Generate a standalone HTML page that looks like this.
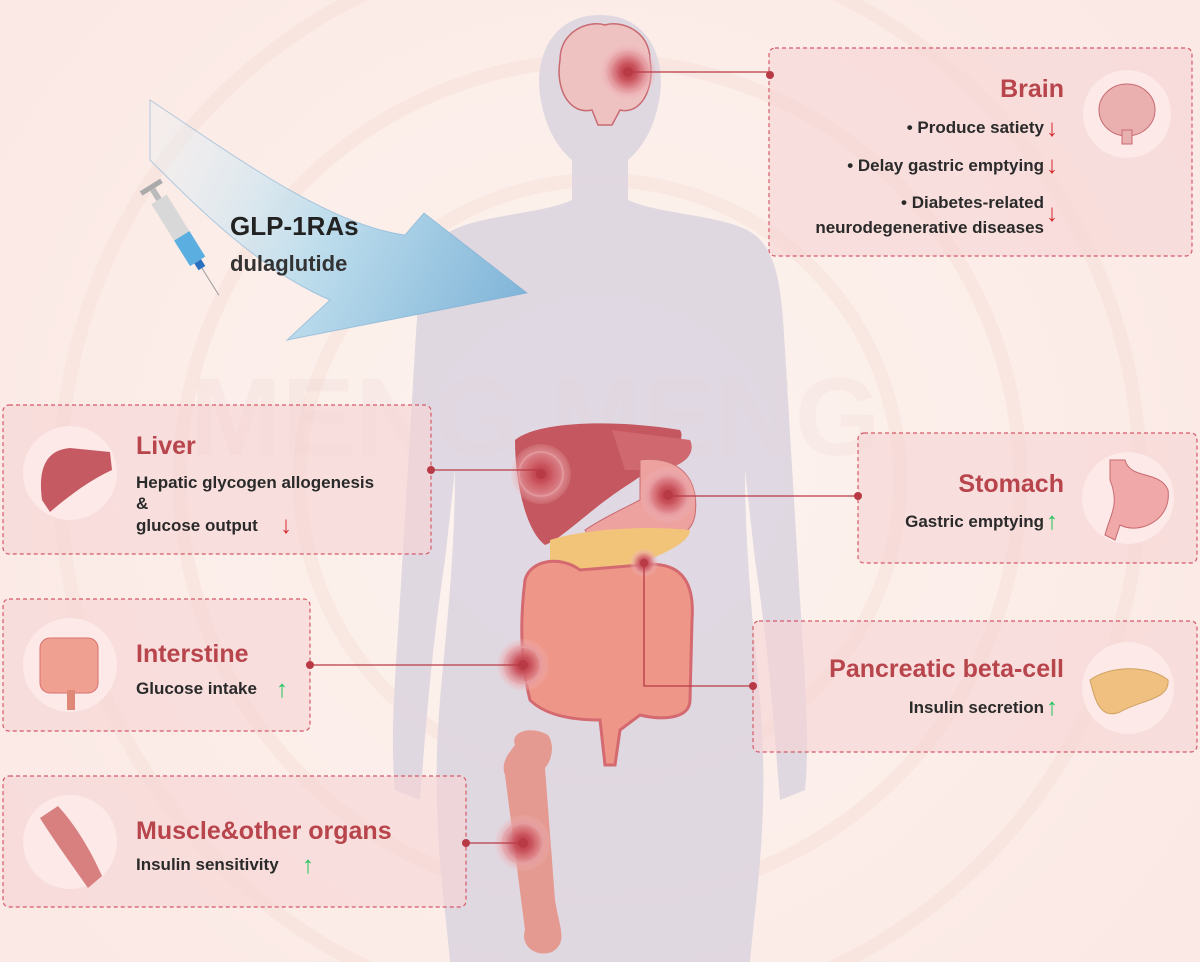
<!DOCTYPE html>
<html><head><meta charset="utf-8">
<style>
html,body{margin:0;padding:0;}
body{width:1200px;height:962px;overflow:hidden;background:#fbefea;font-family:"Liberation Sans",sans-serif;}
svg{display:block;}
svg text{font-family:"Liberation Sans",sans-serif;font-weight:bold;}
</style></head><body>
<svg width="1200" height="962" viewBox="0 0 1200 962" xmlns="http://www.w3.org/2000/svg">
<defs>
<radialGradient id="bg" cx="600" cy="480" r="700" gradientUnits="userSpaceOnUse">
<stop offset="0" stop-color="#fdf4ef"/><stop offset="1" stop-color="#fbe9e5"/></radialGradient>
<linearGradient id="arr" x1="150" y1="130" x2="527" y2="300" gradientUnits="userSpaceOnUse">
<stop offset="0" stop-color="#e8f2f6" stop-opacity="0.3"/><stop offset="0.5" stop-color="#bcdcec"/><stop offset="1" stop-color="#7fb4d8"/></linearGradient>
<radialGradient id="tg"><stop offset="0" stop-color="#b83a45"/><stop offset="0.3" stop-color="#c9525c"/><stop offset="0.55" stop-color="#d8757d" stop-opacity="0.8"/><stop offset="0.75" stop-color="#e8a0a5" stop-opacity="0.6"/><stop offset="1" stop-color="#f0b8bb" stop-opacity="0.15"/></radialGradient>
</defs>
<rect width="1200" height="962" fill="url(#bg)"/>
<g fill="none" stroke="#f5d8d0" stroke-width="14" opacity="0.3">
<circle cx="600" cy="480" r="300"/><circle cx="600" cy="480" r="420"/><circle cx="600" cy="480" r="540"/></g>
<text x="190" y="455" font-size="110" fill="#e8cccc" opacity="0.18">MENG MENG</text>
<!-- body silhouette -->
<path d="M600 15 C550 15 535 60 540 95 C545 130 560 150 572 160 L572 200 C540 215 470 215 445 235 C420 255 418 300 415 350 L400 600 C395 680 390 740 395 790 L420 800 C425 740 430 660 445 560 L455 470 C455 560 445 640 440 700 C430 820 445 900 450 962 L750 962 C755 900 770 820 760 700 C755 640 745 560 745 470 L755 560 C770 660 775 740 780 800 L805 790 C810 740 805 680 800 600 L785 350 C782 300 780 255 755 235 C730 215 660 215 628 200 L628 160 C640 150 655 130 660 95 C665 60 650 15 600 15Z" fill="#ddd5e0" opacity="0.9"/>
<!-- brain in head -->
<path d="M560 60 C560 30 590 20 605 25 C620 20 650 30 650 60 C655 90 640 115 620 110 L612 125 L598 125 L592 110 C570 115 555 90 560 60Z" fill="#efc2c2" stroke="#c86a70" stroke-width="1.5"/>
<!-- arrow -->
<path d="M150 100 C240 160 330 225 405 235 L424 213 L527 293 L287 340 L330 300 C260 270 200 210 150 160Z" fill="url(#arr)" stroke="#6ea6cf" stroke-width="1" stroke-opacity="0.5"/>
<!-- syringe -->
<g transform="translate(150,185) rotate(-32)">
<rect x="-12" y="0" width="24" height="5" fill="#aaa"/><rect x="-3" y="5" width="6" height="12" fill="#bbb"/>
<rect x="-9" y="17" width="18" height="60" fill="#d8d8d8"/><rect x="-9" y="60" width="18" height="30" fill="#5aaee0"/>
<rect x="-4" y="90" width="8" height="8" fill="#2a70c0"/><line x1="0" y1="98" x2="0" y2="130" stroke="#999" stroke-width="1"/>
</g>
<text x="230" y="235" font-size="26" fill="#222">GLP-1RAs</text>
<text x="230" y="271" font-size="22" fill="#333">dulaglutide</text>
<!-- boxes -->
<g fill="#f5d4d4" fill-opacity="0.6" stroke="#d45a68" stroke-width="1.2" stroke-dasharray="4,3">
<rect x="769" y="48" width="423" height="208" rx="6"/>
<rect x="3" y="405" width="428" height="149" rx="6"/>
<rect x="858" y="433" width="339" height="130" rx="6"/>
<rect x="3" y="599" width="307" height="132" rx="6"/>
<rect x="753" y="621" width="444" height="131" rx="6"/>
<rect x="3" y="776" width="463" height="131" rx="6"/>
</g>
<!-- icon circles -->
<g fill="#fce9e8">
<circle cx="1127" cy="114" r="44"/><circle cx="70" cy="473" r="47"/><circle cx="1128" cy="498" r="46"/>
<circle cx="70" cy="665" r="47"/><circle cx="1128" cy="688" r="46"/><circle cx="70" cy="842" r="47"/></g>
<!-- icon organs -->
<ellipse cx="1127" cy="110" rx="28" ry="26" fill="#eab0b0" stroke="#c86a70"/><rect x="1122" y="130" width="10" height="14" fill="#e8b0b0" stroke="#c86a70"/>
<path d="M42 500 C38 470 45 450 70 448 L110 452 L112 470 C90 480 70 495 50 512Z" fill="#c65a62"/>
<path d="M1110 460 L1125 460 C1130 480 1160 470 1168 490 C1172 520 1140 535 1120 525 L1115 540 L1105 535 C1110 515 1120 505 1110 480Z" fill="#f0a8a8" stroke="#c86a70"/>
<rect x="40" y="638" width="58" height="55" rx="10" fill="#f0a090" stroke="#d87070"/><rect x="67" y="690" width="8" height="20" fill="#e08878"/>
<path d="M1090 680 C1110 665 1150 665 1168 680 C1170 700 1140 700 1120 712 C1100 720 1095 700 1090 680Z" fill="#f0c080" stroke="#d0a060"/>
<path d="M40 818 L58 806 C80 830 95 860 102 876 L88 888 C70 862 55 842 40 818Z" fill="#d88080"/>
<!-- organs -->
<path d="M515 440 C540 420 620 420 680 430 C690 445 650 470 620 490 C590 510 560 540 545 545 C525 530 515 480 515 440Z" fill="#c4575f"/>
<path d="M612 430 L690 440 C695 450 690 465 660 470 L625 470Z" fill="#d06870"/>
<path d="M640 460 C680 455 700 480 695 515 C690 545 650 545 620 530 L595 545 L585 530 C600 520 620 510 640 500Z" fill="#eda2a0" stroke="#c86a70"/>
<path d="M550 540 C580 530 640 525 690 530 C690 545 650 560 620 570 C590 590 565 590 550 570Z" fill="#f2c47a"/>
<path d="M525 580 C530 560 560 555 580 570 L640 565 C680 560 695 580 692 620 L690 700 C690 720 660 720 640 715 L620 730 L615 765 L605 765 L600 720 C570 720 545 715 530 700 C520 660 520 620 525 580Z" fill="#ee9688" stroke="#d46a70" stroke-width="3"/>
<path d="M515 745 C510 732 530 725 548 735 C555 745 552 760 545 768 L555 900 C560 930 568 942 552 952 C535 958 520 945 525 930 L505 775 C500 762 510 752 515 745Z" fill="#e49a90"/>
<!-- targets -->
<g fill="url(#tg)">
<circle cx="628" cy="72" r="28"/><circle cx="541" cy="474" r="30"/><circle cx="668" cy="495" r="28"/>
<circle cx="644" cy="563" r="14"/><circle cx="523" cy="665" r="26"/><circle cx="523" cy="843" r="28"/></g>
<g fill="none" stroke="#e6a0a4" stroke-width="2" opacity="0.7">
<circle cx="628" cy="72" r="20"/><circle cx="541" cy="474" r="22"/><circle cx="668" cy="495" r="20"/><circle cx="523" cy="665" r="18"/><circle cx="523" cy="843" r="20"/></g>
<!-- connectors -->
<g stroke="#b83a45" stroke-width="1.3" fill="none">
<path d="M628 72 H770"/><path d="M431 470 H541"/><path d="M668 496 H858"/>
<path d="M644 563 V686 H753"/><path d="M310 665 H523"/><path d="M466 843 H523"/></g>
<g fill="#b83a45">
<circle cx="770" cy="75" r="4"/><circle cx="431" cy="470" r="4"/><circle cx="858" cy="496" r="4"/>
<circle cx="753" cy="686" r="4"/><circle cx="310" cy="665" r="4"/><circle cx="466" cy="843" r="4"/>
<circle cx="628" cy="72" r="5"/><circle cx="541" cy="474" r="5"/><circle cx="668" cy="495" r="5"/><circle cx="644" cy="563" r="4"/><circle cx="523" cy="665" r="5"/><circle cx="523" cy="843" r="5"/></g>
<!-- text -->
<g fill="#b8444c">
<text x="1064" y="97" font-size="25" text-anchor="end">Brain</text>
<text x="136" y="454" font-size="25">Liver</text>
<text x="1064" y="492" font-size="25" text-anchor="end">Stomach</text>
<text x="136" y="662" font-size="25">Interstine</text>
<text x="1064" y="677" font-size="25" text-anchor="end">Pancreatic beta-cell</text>
<text x="136" y="839" font-size="25">Muscle&amp;other organs</text></g>
<g fill="#2a2a2a" font-size="17">
<text x="1044" y="133" text-anchor="end">•  Produce satiety</text>
<text x="1044" y="171" text-anchor="end">•  Delay gastric emptying</text>
<text x="1044" y="208" text-anchor="end">•  Diabetes-related</text>
<text x="1044" y="233" text-anchor="end">neurodegenerative diseases</text>
<text x="136" y="488">Hepatic glycogen allogenesis</text>
<text x="136" y="509">&amp;</text>
<text x="136" y="531">glucose output</text>
<text x="1044" y="527" text-anchor="end">Gastric emptying</text>
<text x="136" y="694">Glucose intake</text>
<text x="1044" y="713" text-anchor="end">Insulin secretion</text>
<text x="136" y="870">Insulin sensitivity</text></g>
<g font-size="24" font-weight="bold">
<text x="1046" y="136" fill="#d4282e">↓</text><text x="1046" y="173" fill="#d4282e">↓</text><text x="1046" y="221" fill="#d4282e">↓</text>
<text x="280" y="533" fill="#d4282e">↓</text>
<text x="1046" y="529" fill="#22c55e">↑</text><text x="276" y="697" fill="#22c55e">↑</text>
<text x="1046" y="715" fill="#22c55e">↑</text><text x="302" y="873" fill="#22c55e">↑</text></g>
</svg>
</body></html>
